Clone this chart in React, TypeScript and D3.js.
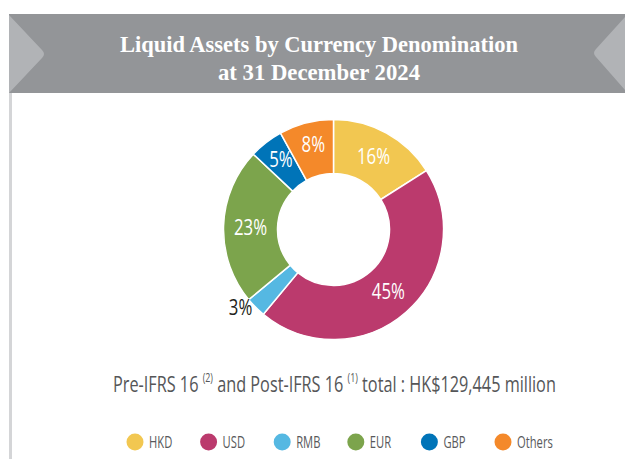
import React, { useLayoutEffect, useRef, useState } from "react";
import * as d3 from "d3";

const categories = ["HKD", "USD", "RMB", "EUR", "GBP", "Others"];
const shares = [16, 45, 3, 23, 5, 8];
const colors = ["#f2c751", "#bb3a6d", "#55b8e2", "#7ca44c", "#0074b8", "#f4892a"];
const titleLines = ["Liquid Assets by Currency Denomination", "at 31 December 2024"];

const W = 625;
const H = 459;
const cx = 333.5;
const cy = 229.5;
const outerR = 110;
const innerR = 56;

export default function App() {
  const pie = d3.pie<number>().sort(null).value((d) => d)(shares);
  const arc = d3.arc<d3.PieArcDatum<number>>().innerRadius(innerR).outerRadius(outerR);
  const subRef = useRef<SVGTextElement>(null);
  const [subScale, setSubScale] = useState(0.75);

  useLayoutEffect(() => {
    if (subRef.current) {
      const w = subRef.current.getBBox().width;
      if (w > 0) setSubScale(443 / w);
    }
  }, []);

  const labelPos = (d: d3.PieArcDatum<number>, i: number) => {
    const pct = shares[i];
    const r = pct < 4 ? 121 : pct < 10 ? 88 : 83;
    const a = (d.startAngle + d.endAngle) / 2;
    const shift = pct < 4 ? 0.09 : pct < 10 ? 0.02 : 0;
    const ang = a + shift;
    return [cx + r * Math.sin(ang), cy - r * Math.cos(ang)];
  };

  const legendX = d3.scalePoint<string>().domain(categories).range([135, 503]);

  return (
    <svg width={W} height={H} style={{ position: "absolute", left: 0, top: 0, background: "#fff" }}>
      {/* banner */}
      <rect x={9} y={14} width={W - 9} height={79} fill="#939598" />
      <path d="M9,15 L42,50 Q46,54 42,58 L9,93 Z" fill="#b1b3b6" />
      <path d="M625,17 L596,49 Q592,53 596,57 L625,90 Z" fill="#b1b3b6" />
      <rect x={9} y={93} width={3} height={H - 93} fill="#d4d5d7" />
      <text
        x={319}
        y={52}
        textAnchor="middle"
        fill="#fff"
        fontFamily="'Liberation Serif', serif"
        fontWeight="bold"
        fontSize={24}
        textLength={398}
        lengthAdjust="spacingAndGlyphs"
      >
        {titleLines[0]}
      </text>
      <text
        x={319}
        y={80}
        textAnchor="middle"
        fill="#fff"
        fontFamily="'Liberation Serif', serif"
        fontWeight="bold"
        fontSize={24}
        textLength={202}
        lengthAdjust="spacingAndGlyphs"
      >
        {titleLines[1]}
      </text>

      {/* donut */}
      <g transform={`translate(${cx},${cy})`}>
        {pie.map((d, i) => (
          <path key={categories[i]} d={arc(d) || ""} fill={colors[i]} stroke="#fff" strokeWidth={1.5} />
        ))}
      </g>
      {pie.map((d, i) => {
        const [x, y] = labelPos(d, i);
        const outside = shares[i] < 4;
        return (
          <text
            key={"l" + i}
            transform={`translate(${x},${y}) scale(0.8,1)`}
            textAnchor="middle"
            dominantBaseline="central"
            fill={outside ? "#231f20" : "#fff"}
            fontFamily="'Open Sans', sans-serif"
            fontSize={21}
          >
            {shares[i]}%
          </text>
        );
      })}

      {/* subtitle */}
      <text
        ref={subRef}
        transform={`translate(113,392) scale(${subScale},1)`}
        fill="#555658"
        fontFamily="'Open Sans', sans-serif"
        fontSize={22}
      >
        <tspan>Pre-IFRS 16 </tspan>
        <tspan fontSize={12} dy={-10}>(2)</tspan>
        <tspan dy={10}> and Post-IFRS 16 </tspan>
        <tspan fontSize={12} dy={-10}>(1)</tspan>
        <tspan dy={10}> total : HK$129,445 million</tspan>
      </text>

      {/* legend */}
      {categories.map((c, i) => {
        const x = legendX(c) as number;
        return (
          <g key={"lg" + c}>
            <circle cx={x} cy={442} r={8.5} fill={colors[i]} />
            <text
              transform={`translate(${x + 14},442) scale(0.68,1)`}
              dominantBaseline="central"
              fill="#58595b"
              fontFamily="'Open Sans', sans-serif"
              fontSize={16.5}
            >
              {c}
            </text>
          </g>
        );
      })}
    </svg>
  );
}
